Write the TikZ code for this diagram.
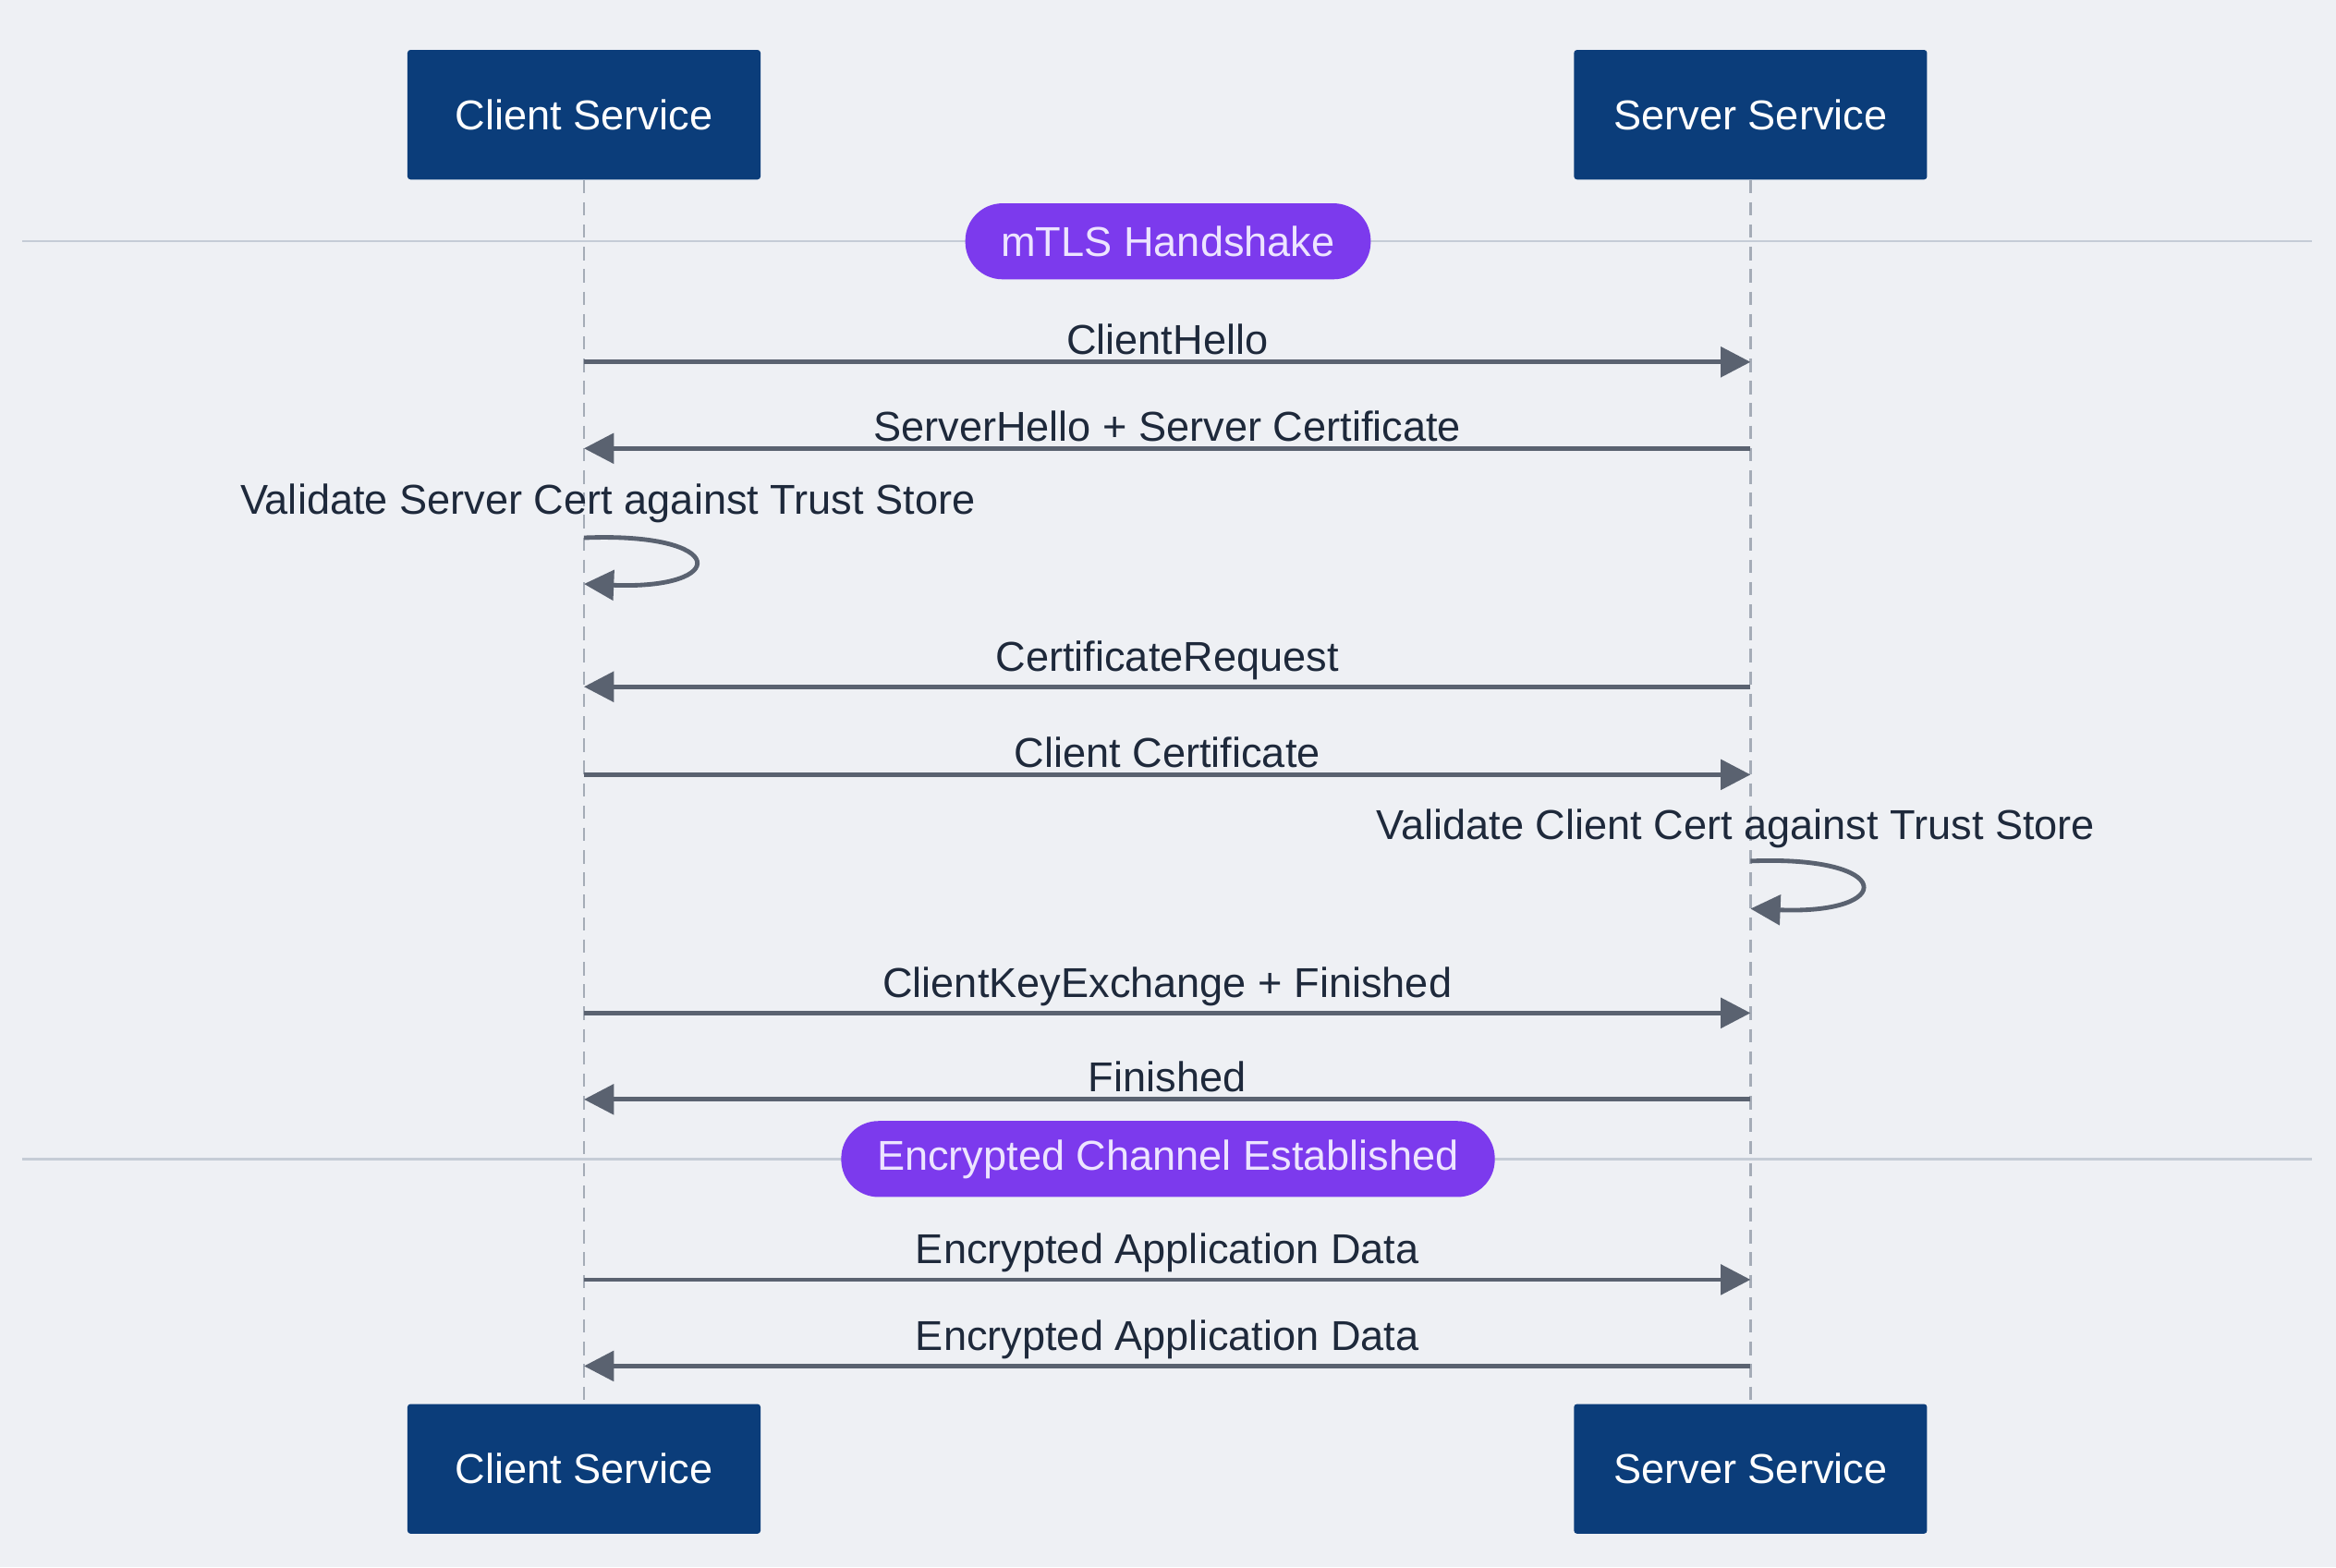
\documentclass[tikz,border=0pt]{standalone}
\usepackage{fontspec}
\setmainfont{Liberation Sans}
\usetikzlibrary{arrows.meta}
\definecolor{bg}{HTML}{EEF0F4}
\definecolor{navy}{HTML}{0B3D7A}
\definecolor{pill}{HTML}{7C3AED}
\definecolor{pilltxt}{HTML}{EDE4FF}
\definecolor{arr}{HTML}{5A6270}
\definecolor{txt}{HTML}{1E293B}
\definecolor{sep}{HTML}{C5CCD6}
\begin{document}
\begin{tikzpicture}[x=1pt,y=-1pt,
  actor/.style={fill=navy,text=white,minimum width=237pt,minimum height=87pt,rounded corners=2pt,font=\fontsize{28}{32}\selectfont},
  pillst/.style={fill=pill,text=pilltxt,rounded corners=25pt,minimum height=51pt,font=\fontsize{28}{32}\selectfont,inner xsep=24pt},
  lbl/.style={text=txt,font=\fontsize{28}{32}\selectfont},
  msg/.style={draw=arr,line width=3pt,-{Triangle[length=20pt,width=20pt]}},
  life/.style={draw=sep!70!arr,line width=1.5pt,dash pattern=on 9pt off 6pt},
  sepl/.style={draw=sep,line width=1.5pt}]
\fill[bg] (0,0) rectangle (1568,1052);
\useasboundingbox (0,0) rectangle (1568,1052);
\node[actor] (ct) at (392,77) {Client Service};
\node[actor] (st) at (1175,77) {Server Service};
\node[actor] (cb) at (392,986) {Client Service};
\node[actor] (sb) at (1175,986) {Server Service};
\draw[life] (ct.south) -- (cb.north);
\draw[life] (st.south) -- (sb.north);
\coordinate (s1a) at (15,162); \coordinate (s1b) at (1552,162);
\coordinate (s2a) at (15,778); \coordinate (s2b) at (1552,778);
\draw[sepl] (s1a) -- (s1b);
\draw[sepl] (s2a) -- (s2b);
\node[pillst] (p1) at (784,162) {mTLS Handshake};
\node[pillst] (p2) at (784,778) {Encrypted Channel Established};
\foreach \y/\n in {243/a,301/b,361/c1,392/c2,461/d,520/e,578/f1,610/f2,680/g,738/h,859/i,917/j}{
  \coordinate (C\n) at (392,\y); \coordinate (S\n) at (1175,\y);}
\draw[msg] (Ca) -- (Sa) node[lbl,midway,above=0pt] {ClientHello};
\draw[msg] (Sb) -- (Cb) node[lbl,midway,above=0pt] {ServerHello + Server Certificate};
\node[lbl] (v1) at (408,338) {Validate Server Cert against Trust Store};
\draw[msg] (Cc1) .. controls (490,357) and (490,396) .. (Cc2);
\draw[msg] (Sd) -- (Cd) node[lbl,midway,above=0pt] {CertificateRequest};
\draw[msg] (Ce) -- (Se) node[lbl,midway,above=0pt] {Client Certificate};
\node[lbl] (v2) at (1165,556) {Validate Client Cert against Trust Store};
\draw[msg] (Sf1) .. controls (1273,574) and (1273,614) .. (Sf2);
\draw[msg] (Cg) -- (Sg) node[lbl,midway,above=0pt] {ClientKeyExchange + Finished};
\draw[msg] (Sh) -- (Ch) node[lbl,midway,above=0pt] {Finished};
\draw[msg] (Ci) -- (Si) node[lbl,midway,above=0pt] {Encrypted Application Data};
\draw[msg] (Sj) -- (Cj) node[lbl,midway,above=0pt] {Encrypted Application Data};
\end{tikzpicture}
\end{document}
